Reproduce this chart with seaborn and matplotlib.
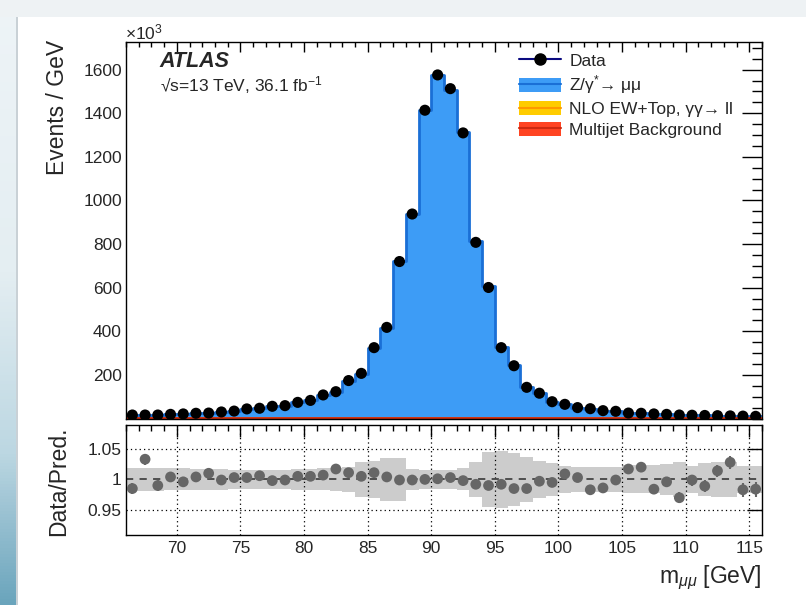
import numpy as np
import pandas as pd
import matplotlib
matplotlib.use("Agg")
import matplotlib.pyplot as plt
import seaborn as sns
from matplotlib.lines import Line2D
from matplotlib.patches import Patch, Rectangle
from matplotlib.legend_handler import HandlerTuple
from matplotlib.ticker import MultipleLocator, FixedLocator, NullFormatter
from matplotlib.colors import to_rgb

# ---------------- data (events / GeV in units of 10^3) ----------------
mass = [66.5, 67.5, 68.5, 69.5, 70.5, 71.5, 72.5, 73.5, 74.5, 75.5,
        76.5, 77.5, 78.5, 79.5, 80.5, 81.5, 82.5, 83.5, 84.5, 85.5,
        86.5, 87.5, 88.5, 89.5, 90.5, 91.5, 92.5, 93.5, 94.5, 95.5,
        96.5, 97.5, 98.5, 99.5, 100.5, 101.5, 102.5, 103.5, 104.5, 105.5,
        106.5, 107.5, 108.5, 109.5, 110.5, 111.5, 112.5, 113.5, 114.5, 115.5]

data_k = [16, 16, 16, 19, 21, 24, 25, 30, 34, 44,
          47, 56, 59, 74, 83, 108, 123, 174, 207, 325,
          418, 720, 938, 1414, 1576, 1513, 1310, 808, 601, 325,
          242, 143, 116, 77, 65, 50, 45, 36, 33, 25,
          24, 21, 19, 16, 15, 14, 13, 12, 11, 10]

pred_total = [16.2, 15.5, 16.2, 18.9, 21.1, 23.9, 24.8, 30.0, 33.9, 43.9,
              46.7, 56.1, 59.1, 73.6, 82.6, 107.2, 120.9, 172.1, 206.0, 321.5,
              416.3, 720.7, 938.9, 1414.0, 1574.4, 1508.5, 1312.6, 814.5, 607.1, 327.6,
              245.7, 145.2, 116.3, 77.4, 64.4, 49.9, 45.8, 36.5, 33.0, 24.6,
              23.5, 21.3, 19.1, 16.5, 15.0, 14.2, 12.8, 11.7, 11.2, 10.2]

ew_top = [0.9, 0.9, 0.9, 0.9, 0.9, 0.9, 0.9, 0.9, 0.9, 0.9,
          0.9, 0.9, 0.9, 1.0, 1.0, 1.0, 1.0, 1.0, 1.1, 1.1,
          1.2, 1.3, 1.4, 1.6, 1.8, 1.7, 1.5, 1.3, 1.2, 1.1,
          1.0, 1.0, 0.9, 0.9, 0.9, 0.9, 0.9, 0.9, 0.9, 0.9,
          0.9, 0.9, 0.9, 0.9, 0.9, 0.9, 0.9, 0.9, 0.9, 0.9]

multijet = [0.5, 0.5, 0.5, 0.5, 0.5, 0.5, 0.5, 0.5, 0.5, 0.5,
            0.5, 0.5, 0.5, 0.5, 0.5, 0.5, 0.5, 0.5, 0.5, 0.5,
            0.5, 0.5, 0.5, 0.5, 0.5, 0.5, 0.5, 0.5, 0.5, 0.5,
            0.5, 0.5, 0.5, 0.5, 0.5, 0.5, 0.5, 0.5, 0.5, 0.5,
            0.5, 0.5, 0.5, 0.5, 0.5, 0.5, 0.5, 0.5, 0.5, 0.5]

ratio = [0.985, 1.033, 0.990, 1.004, 0.996, 1.004, 1.010, 0.999, 1.003, 1.003,
         1.006, 0.998, 0.999, 1.005, 1.005, 1.007, 1.017, 1.011, 1.005, 1.011,
         1.004, 0.999, 0.999, 1.000, 1.001, 1.003, 0.998, 0.992, 0.990, 0.992,
         0.985, 0.985, 0.997, 0.995, 1.009, 1.003, 0.983, 0.986, 0.999, 1.017,
         1.020, 0.984, 0.996, 0.970, 0.999, 0.989, 1.014, 1.028, 0.983, 0.984]

ratio_err = [0.009, 0.009, 0.009, 0.008, 0.008, 0.007, 0.007, 0.006, 0.006, 0.005,
             0.005, 0.005, 0.004, 0.004, 0.004, 0.003, 0.003, 0.003, 0.002, 0.002,
             0.002, 0.001, 0.001, 0.001, 0.001, 0.001, 0.001, 0.001, 0.001, 0.002,
             0.002, 0.003, 0.003, 0.004, 0.004, 0.005, 0.005, 0.006, 0.006, 0.007,
             0.007, 0.007, 0.008, 0.009, 0.009, 0.010, 0.010, 0.011, 0.011, 0.012]

syst = [0.019, 0.019, 0.019, 0.018, 0.018, 0.017, 0.017, 0.017, 0.016, 0.016,
        0.016, 0.016, 0.016, 0.017, 0.017, 0.018, 0.019, 0.021, 0.029, 0.030,
        0.035, 0.035, 0.017, 0.016, 0.016, 0.016, 0.018, 0.028, 0.045, 0.047,
        0.043, 0.037, 0.030, 0.027, 0.022, 0.021, 0.020, 0.020, 0.021, 0.023,
        0.023, 0.023, 0.026, 0.028, 0.022, 0.027, 0.029, 0.028, 0.022, 0.022]

main_yticks = [200, 400, 600, 800, 1000, 1200, 1400, 1600]
ratio_yticks = [0.95, 1.0, 1.05]
ratio_ylabels = ["0.95", "1", "1.05"]
x_ticks = [70, 75, 80, 85, 90, 95, 100, 105, 110, 115]
legend_labels = ["Data", "Z/γ$^{*}$→ μμ", "NLO EW+Top, γγ→ ll", "Multijet Background"]

# ---------------- style ----------------
sns.set_theme(style="white")
plt.rcParams["font.family"] = ["Liberation Sans", "DejaVu Sans"]
plt.rcParams["mathtext.fontset"] = "custom"
plt.rcParams["mathtext.rm"] = "Liberation Sans"
plt.rcParams["mathtext.it"] = "Liberation Sans:italic"
plt.rcParams["axes.linewidth"] = 1.0
plt.rcParams["axes.edgecolor"] = "black"

blue_fill = "#3d9cf6"
blue_edge = "#1a6fd6"
yel_fill = "#ffcc00"
yel_edge = "#ff9900"
red_fill = "#ff4422"
red_edge = "#cc2a10"

W, H = 806, 605
fig = plt.figure(figsize=(W / 100, H / 100), dpi=100)
fig.patch.set_facecolor("white")

# background decoration (slide frame)
bg = fig.add_axes([0, 0, 1, 1], zorder=-10)
stops = [(0.0, "#eef4f7"), (0.45, "#e4eef2"), (0.75, "#bcd7e2"), (1.0, "#6aa4bc")]
n = 200
grad = np.zeros((n, 1, 3))
for i in range(n):
    t = i / (n - 1)
    for (t0, c0), (t1, c1) in zip(stops[:-1], stops[1:]):
        if t0 <= t <= t1:
            f = (t - t0) / (t1 - t0)
            grad[i, 0] = np.array(to_rgb(c0)) * (1 - f) + np.array(to_rgb(c1)) * f
bg.imshow(grad, extent=[0, 18 / W, 0, 1], aspect="auto", origin="upper", zorder=0)
bg.add_patch(Rectangle((0, 1 - 17 / H), 1, 17 / H, color="#eef2f4", zorder=1, lw=0))
bg.add_patch(Rectangle((18 / W - 0.002, 0), 0.002, 1 - 17 / H, color="#c9d1d6", zorder=2, lw=0))
bg.set_xlim(0, 1); bg.set_ylim(0, 1); bg.axis("off")

L = 126 / W
Wd = 636 / W
ax = fig.add_axes([L, 1 - 418.5 / H, Wd, 376.5 / H])
rax = fig.add_axes([L, 1 - 535 / H, Wd, 110 / H])

bkg_sum = [a + b for a, b in zip(ew_top, multijet)]
df = pd.DataFrame({"m": mass, "total": pred_total, "bkg": bkg_sum, "mj": multijet})

# stacked prediction (drawn as cumulative histograms)
for col, fc, ec in [("total", blue_fill, blue_edge),
                    ("bkg", yel_fill, yel_edge),
                    ("mj", red_fill, red_edge)]:
    sns.histplot(data=df, x="m", weights=col, binwidth=1, binrange=(66, 116),
                 element="step", fill=True, color=fc, alpha=1.0, linewidth=0, ax=ax)
    sns.histplot(data=df, x="m", weights=col, binwidth=1, binrange=(66, 116),
                 element="step", fill=False, color=ec, linewidth=2.0, ax=ax)

sns.scatterplot(x=mass, y=data_k, color="black", s=64, edgecolor="none", ax=ax, zorder=10)

ax.set_xlim(66, 116)
ax.set_ylim(0, 1727)
ax.yaxis.set_major_locator(FixedLocator(main_yticks))
ax.yaxis.set_minor_locator(MultipleLocator(50))
ax.xaxis.set_major_locator(MultipleLocator(5))
ax.xaxis.set_minor_locator(MultipleLocator(1))
ax.xaxis.set_major_formatter(NullFormatter())
ax.set_xlabel(""); ax.set_ylabel("")
ax.tick_params(axis="both", which="both", direction="in", top=True, right=True,
               color="black", width=1.0)
ax.tick_params(axis="y", which="major", length=14.4, labelsize=12.5, pad=3)
ax.tick_params(axis="y", which="minor", length=7.2)
ax.tick_params(axis="x", which="major", length=7.2)
ax.tick_params(axis="x", which="minor", length=3.6)

# ratio panel
rax.bar(mass, [2 * s for s in syst], bottom=[1 - s for s in syst], width=1.0,
        color="#cccccc", linewidth=0, zorder=1)
for xv in x_ticks:
    rax.axvline(xv, color="black", lw=0.9, ls=(0, (1, 2.5)), zorder=2)
for yv in [0.95, 1.05]:
    rax.axhline(yv, color="black", lw=0.9, ls=(0, (1, 2.5)), zorder=2)
rax.axhline(1.0, color="#444444", lw=1.3, ls=(0, (4, 3.5)), zorder=2)
rax.errorbar(mass, ratio, yerr=ratio_err, fmt="none", ecolor="#666666", elinewidth=1.5, zorder=3)
sns.scatterplot(x=mass, y=ratio, color="#666666", s=60, edgecolor="none", ax=rax, zorder=4)
rax.set_xlim(66, 116)
rax.set_ylim(0.909, 1.089)
rax.yaxis.set_major_locator(FixedLocator(ratio_yticks))
rax.set_yticklabels(ratio_ylabels)
rax.xaxis.set_major_locator(FixedLocator(x_ticks))
rax.xaxis.set_minor_locator(MultipleLocator(1))
rax.set_xticklabels([str(v) for v in x_ticks])
rax.set_xlabel(""); rax.set_ylabel("")
rax.tick_params(axis="both", which="both", direction="in", top=True, right=True,
                color="black", width=1.0, labelsize=12.5)
rax.tick_params(axis="y", which="major", length=10.8, pad=3)
rax.tick_params(axis="x", which="major", length=8.6, pad=4)
rax.tick_params(axis="x", which="minor", length=4.3)

# texts
fig.text(57 / W, 1 - 40 / H, "Events / GeV", rotation=90, ha="center", va="top", fontsize=16.5)
fig.text(59 / W, 1 - 481 / H, "Data/Pred.", rotation=90, ha="center", va="center", fontsize=16.5)
fig.text(762 / W, 1 - 578 / H, "m$_{\\mu\\mu}$ [GeV]", ha="right", va="center", fontsize=16.5)
fig.text(125 / W, 1 - 32 / H, "×10$^{3}$", ha="left", va="center", fontsize=12.5)
ax.text(0.053, 0.947, "ATLAS", transform=ax.transAxes, fontsize=15.5, fontweight="bold",
        fontstyle="italic", ha="left", va="center")
ax.text(0.053, 0.885, "√s=13 TeV, 36.1 fb$^{-1}$", transform=ax.transAxes, fontsize=12.5,
        ha="left", va="center")

handles = [
    Line2D([], [], color="#0a0a80", lw=1.5, marker="o", markersize=8,
           markerfacecolor="black", markeredgecolor="black"),
    (Patch(fc=blue_fill, ec="none"), Line2D([], [], color=blue_edge, lw=1.5)),
    (Patch(fc=yel_fill, ec="none"), Line2D([], [], color=yel_edge, lw=1.5)),
    (Patch(fc=red_fill, ec="none"), Line2D([], [], color=red_edge, lw=1.5)),
]
ax.legend(handles, legend_labels, handler_map={tuple: HandlerTuple(ndivide=1, pad=0)},
          loc="upper left", bbox_to_anchor=(0.618, 0.972), frameon=False, fontsize=12.5,
          handlelength=2.4, handleheight=0.9, handletextpad=0.5, labelspacing=0.27,
          borderpad=0, borderaxespad=0)

fig.savefig("out.png", dpi=100)
